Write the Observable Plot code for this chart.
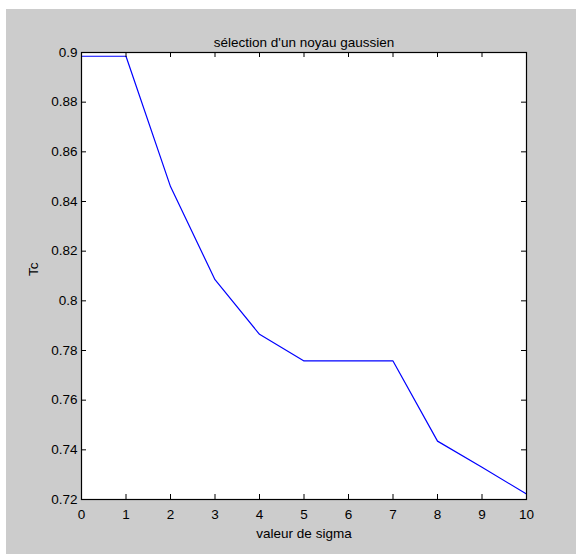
<!DOCTYPE html>
<html><head><meta charset="utf-8">
<style>
html,body{margin:0;padding:0;background:#ffffff;}
#chart{position:absolute;left:6px;top:9px;}
svg{display:block;}
</style>
<script src="https://cdn.jsdelivr.net/npm/d3@7"></script>
<script src="https://cdn.jsdelivr.net/npm/@observablehq/plot@0.6"></script>
</head><body><div id="chart"></div>
<script>
const sigma = [0, 1, 2, 3, 4, 5, 6, 7, 8, 9, 10];
const tc = [0.8985, 0.8985, 0.846, 0.8085, 0.7865, 0.7758, 0.7758, 0.7758, 0.7435, 0.733, 0.7222];
const xTicks = [0, 1, 2, 3, 4, 5, 6, 7, 8, 9, 10];
const xTickLabels = ["0", "1", "2", "3", "4", "5", "6", "7", "8", "9", "10"];
const yTicks = [0.72, 0.74, 0.76, 0.78, 0.8, 0.82, 0.84, 0.86, 0.88, 0.9];
const yTickLabels = ["0.72", "0.74", "0.76", "0.78", "0.8", "0.82", "0.84", "0.86", "0.88", "0.9"];
const titleText = "sélection d'un noyau gaussien";
const xLabel = "valeur de sigma";
const yLabel = "Tc";

const data = sigma.map((s, i) => ({sigma: s, tc: tc[i]}));

const W = 570, H = 545;
const mL = 75, mT = 43, mR = 50, mB = 55;
const innerW = W - mL - mR, innerH = H - mT - mB;
const tickLen = 5;

const chart = Plot.plot({
  width: W,
  height: H,
  marginLeft: mL,
  marginTop: mT,
  marginRight: mR,
  marginBottom: mB,
  style: {fontFamily: "'Liberation Sans', Arial, sans-serif", fontSize: "13.5px", background: "#cccccc", color: "black", overflow: "visible"},
  x: {domain: [0, 10]},
  y: {domain: [0.72, 0.9]},
  marks: [
    Plot.frame({fill: "white", stroke: null}),
    Plot.line(data, {x: "sigma", y: "tc", stroke: "#0000ff", strokeWidth: 1.2}),
    Plot.tickX(xTicks, {x: d => d, insetTop: innerH - tickLen, stroke: "black"}),
    Plot.tickX(xTicks, {x: d => d, insetBottom: innerH - tickLen, stroke: "black"}),
    Plot.tickY(yTicks, {y: d => d, insetRight: innerW - tickLen, stroke: "black"}),
    Plot.tickY(yTicks, {y: d => d, insetLeft: innerW - tickLen, stroke: "black"}),
    Plot.frame({stroke: "black", strokeWidth: 1.2}),
    Plot.axisX(xTicks, {anchor: "bottom", tickSize: 0, tickPadding: 10, tickFormat: d => xTickLabels[xTicks.indexOf(d)], label: null, fontSize: 13.5}),
    Plot.axisY(yTicks, {anchor: "left", tickSize: 0, tickPadding: 4, tickFormat: d => yTickLabels[yTicks.indexOf(d)], label: null, fontSize: 13.5}),
    Plot.text([titleText], {frameAnchor: "top", dy: -15, text: d => d, fontSize: 13.5, fill: "black"}),
    Plot.text([xLabel], {frameAnchor: "bottom", dy: 38, text: d => d, fontSize: 13.5, fill: "black"}),
    Plot.text([yLabel], {frameAnchor: "left", dx: -48, rotate: -90, text: d => d, fontSize: 13.5, fill: "black"})
  ]
});
document.getElementById("chart").appendChild(chart);
</script>
</body></html>
